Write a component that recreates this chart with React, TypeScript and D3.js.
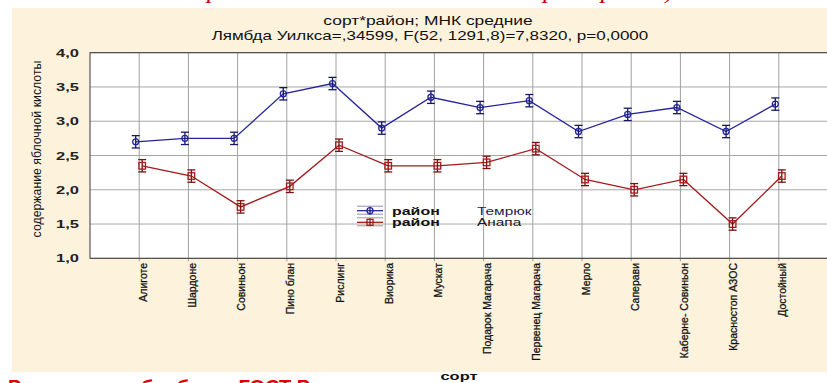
import React from "react";
import * as d3 from "d3";

// Grape varieties (x categories)
const sorts = [
  "Алиготе",
  "Шардоне",
  "Совиньон",
  "Пино блан",
  "Рислинг",
  "Виорика",
  "Мускат",
  "Подарок Магарача",
  "Первенец Магарача",
  "Мерло",
  "Саперави",
  "Каберне- Совиньон",
  "Красностоп АЗОС",
  "Достойный",
];

// LS means of malic acid content by district
const temryuk = [2.7, 2.75, 2.75, 3.4, 3.55, 2.9, 3.35, 3.2, 3.3, 2.85, 3.1, 3.2, 2.85, 3.25];
const anapa = [2.35, 2.2, 1.75, 2.05, 2.65, 2.35, 2.35, 2.4, 2.6, 2.15, 2.0, 2.15, 1.5, 2.2];

// Half-widths of the confidence intervals
const temryukCI = [0.09, 0.09, 0.09, 0.09, 0.09, 0.09, 0.09, 0.09, 0.09, 0.09, 0.09, 0.09, 0.09, 0.09];
const anapaCI = [0.09, 0.09, 0.09, 0.09, 0.09, 0.09, 0.09, 0.09, 0.09, 0.09, 0.09, 0.09, 0.09, 0.09];

const yTicks = [1.0, 1.5, 2.0, 2.5, 3.0, 3.5, 4.0];
const yTickLabels = ["1,0", "1,5", "2,0", "2,5", "3,0", "3,5", "4,0"];

const seriesNames = ["район", "район"];
const seriesLevels = ["Темрюк", "Анапа"];

const W = 827;
const H = 383;
const plot = { left: 90, right: 828, top: 52.7, bottom: 258.3 };

const BLUE = "#25259a";
const BLUE_DARK = "#16166a";
const RED = "#a31b1b";
const RED_DARK = "#7a1010";
const FONT = "'Liberation Sans', Arial, sans-serif";

function StretchText({
  x,
  y,
  sx = 1,
  rotate = 0,
  children,
  ...rest
}: {
  x: number;
  y: number;
  sx?: number;
  rotate?: number;
  children: React.ReactNode;
  [k: string]: any;
}) {
  return (
    <text
      transform={`translate(${x},${y}) scale(${sx},1) rotate(${rotate})`}
      fontFamily={FONT}
      {...rest}
    >
      {children}
    </text>
  );
}

export default function App() {
  const x = d3.scalePoint<string>().domain(sorts).range([plot.left, plot.right]).padding(1);
  const y = d3.scaleLinear().domain([1, 4]).range([plot.bottom, plot.top]);

  const series = [
    { values: temryuk, ci: temryukCI, color: BLUE, dark: BLUE_DARK, dx: -3.5, marker: "circle" },
    { values: anapa, ci: anapaCI, color: RED, dark: RED_DARK, dx: 3, marker: "square" },
  ];

  const line = (vals: number[], dx: number) =>
    d3
      .line<number>()
      .x((_, i) => (x(sorts[i]) as number) + dx)
      .y((v) => y(v))(vals) as string;

  const cap = 4;

  return (
    <div style={{ position: "fixed", left: 0, top: 0 }}>
      <svg width={W} height={H} style={{ display: "block" }}>
        <rect x={0} y={0} width={W} height={H} fill="#ffffff" />
        {/* caption above the panel */}
        <text
          x={413}
          y={-2}
          textAnchor="middle"
          fontFamily="'Liberation Serif', serif"
          fontStyle="italic"
          fontSize={26}
          fill="#c00000"
        >
          Содержание яблочной кислоты: сорт и район)
        </text>
        {/* panel */}
        <rect x={12} y={8} width={W - 12} height={364} fill="#fdf3dd" />

        {/* title */}
        <StretchText x={428} y={25} sx={1.45} textAnchor="middle" fontSize={12} fill="#111">
          сорт*район; МНК средние
        </StretchText>
        <StretchText x={430} y={40} sx={1.42} textAnchor="middle" fontSize={12} fill="#111">
          Лямбда Уилкса=,34599, F(52, 1291,8)=7,8320, p=0,0000
        </StretchText>

        {/* plot background */}
        <rect
          x={plot.left}
          y={plot.top}
          width={plot.right - plot.left}
          height={plot.bottom - plot.top}
          fill="#ffffff"
        />

        {/* grid */}
        {yTicks.map((t) => (
          <line
            key={"h" + t}
            x1={plot.left}
            x2={plot.right}
            y1={y(t)}
            y2={y(t)}
            stroke="#a8a8a8"
            strokeWidth={1}
          />
        ))}
        {sorts.map((s) => (
          <line
            key={"v" + s}
            x1={x(s)}
            x2={x(s)}
            y1={plot.top}
            y2={plot.bottom + 3}
            stroke="#a0a0a0"
            strokeWidth={1}
          />
        ))}

        {/* frame */}
        <rect
          x={plot.left}
          y={plot.top}
          width={plot.right - plot.left}
          height={plot.bottom - plot.top}
          fill="none"
          stroke="#3a3a3a"
          strokeWidth={1}
        />

        {/* y tick labels */}
        {yTicks.map((t, i) => (
          <StretchText
            key={"yl" + t}
            x={79}
            y={y(t) + 4}
            sx={1.5}
            textAnchor="end"
            fontSize={11}
            fontWeight="bold"
            fill="#222"
          >
            {yTickLabels[i]}
          </StretchText>
        ))}

        {/* y axis title */}
        <StretchText
          x={41}
          y={149}
          rotate={-90}
          textAnchor="middle"
          fontSize={12.3}
          fill="#111"
        >
          содержание яблочной кислоты
        </StretchText>

        {/* x tick labels */}
        {sorts.map((s) => (
          <StretchText
            key={"xl" + s}
            x={(x(s) as number) + 7.5}
            y={263}
            sx={1.12}
            rotate={-90}
            textAnchor="end"
            fontSize={10.5}
            fill="#111"
            stroke="#111"
            strokeWidth={0.25}
            style={{ whiteSpace: "pre" }}
          >
            {s}
          </StretchText>
        ))}

        {/* x axis title */}
        <StretchText x={459} y={380} sx={1.5} textAnchor="middle" fontSize={11} fontWeight="bold" fill="#111">
          сорт
        </StretchText>

        {/* series */}
        {series.map((sr, si) => (
          <g key={"s" + si}>
            <path d={line(sr.values, sr.dx)} fill="none" stroke={sr.color} strokeWidth={1.3} />
            {sr.values.map((v, i) => {
              const cx = (x(sorts[i]) as number) + sr.dx;
              const y0 = y(v - sr.ci[i]);
              const y1 = y(v + sr.ci[i]);
              return (
                <g key={i}>
                  <line x1={cx} x2={cx} y1={y0} y2={y1} stroke={sr.dark} strokeWidth={1.3} />
                  <line x1={cx - cap} x2={cx + cap} y1={y0} y2={y0} stroke={sr.dark} strokeWidth={1.3} />
                  <line x1={cx - cap} x2={cx + cap} y1={y1} y2={y1} stroke={sr.dark} strokeWidth={1.3} />
                  {sr.marker === "circle" ? (
                    <circle cx={cx} cy={y(v)} r={3} fill="none" stroke={sr.color} strokeWidth={1.3} />
                  ) : (
                    <rect
                      x={cx - 3.3}
                      y={y(v) - 3.3}
                      width={6.6}
                      height={6.6}
                      fill="none"
                      stroke={sr.color}
                      strokeWidth={1.3}
                    />
                  )}
                </g>
              );
            })}
          </g>
        ))}

        {/* legend */}
        {series.map((sr, si) => {
          const ly = 210.7 + si * 11.6;
          const lx0 = 357;
          const lx1 = 383;
          const mx = 370;
          return (
            <g key={"lg" + si}>
              <line x1={lx0} x2={lx1} y1={ly - 4.5} y2={ly - 4.5} stroke={sr.dark} strokeWidth={0.8} opacity={0.6} />
              <line x1={lx0} x2={lx1} y1={ly} y2={ly} stroke={sr.color} strokeWidth={1.3} />
              <line x1={lx0} x2={lx1} y1={ly + 3.5} y2={ly + 3.5} stroke={sr.dark} strokeWidth={0.8} opacity={0.6} />
              <line x1={mx} x2={mx} y1={ly - 4} y2={ly + 4} stroke={sr.dark} strokeWidth={1.2} />
              {sr.marker === "circle" ? (
                <circle cx={mx} cy={ly} r={3} fill="none" stroke={sr.color} strokeWidth={1.3} />
              ) : (
                <rect x={mx - 3} y={ly - 3} width={6} height={6} fill="none" stroke={sr.color} strokeWidth={1.3} />
              )}
              <StretchText x={392} y={ly + 4} sx={1.45} fontSize={11} fontWeight="bold" fill="#111">
                {seriesNames[si]}
              </StretchText>
              <StretchText x={477} y={ly + 4} sx={1.4} fontSize={11} fill={si === 0 ? "#1c1c55" : "#1a1a1a"}>
                {seriesLevels[si]}
              </StretchText>
            </g>
          );
        })}

        {/* caption below the panel */}
        <text x={8} y={394} fontFamily={FONT} fontWeight="bold" fontSize={20} fill="#e00000">
          Результаты обработки ГОСТ Р
        </text>
      </svg>
    </div>
  );
}
